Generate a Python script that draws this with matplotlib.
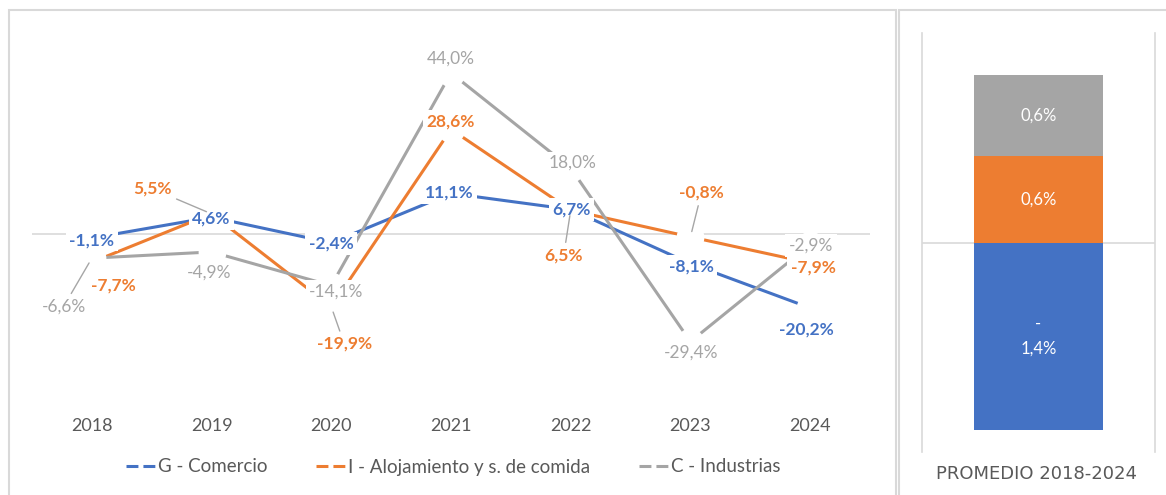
import matplotlib
matplotlib.use('Agg')
import matplotlib.pyplot as plt
from matplotlib.lines import Line2D
from matplotlib.patches import Rectangle

plt.rcParams['font.family'] = ['Lato', 'DejaVu Sans']

# ---------------- data ----------------
years = ['2018', '2019', '2020', '2021', '2022', '2023', '2024']
comercio = [-1.1, 4.6, -2.4, 11.1, 6.7, -8.1, -20.2]
alojamiento = [-7.7, 5.5, -19.9, 28.6, 6.5, -0.8, -7.9]
industrias = [-6.6, -4.9, -14.1, 44.0, 18.0, -29.4, -2.9]
series_names = ['G - Comercio', 'I - Alojamiento y s. de comida', 'C - Industrias']
promedio_title = 'PROMEDIO 2018-2024'
promedio = [-1.39, 0.64, 0.60]   # comercio, alojamiento, industrias

# ---------------- style ----------------
colors = ['#4472C4', '#ED7D31', '#A5A5A5']
label_colors = ['#4472C4', '#ED7D31', '#A5A5A5']
label_weights = ['bold', 'bold', 'normal']
# label offsets in pixels (dx, dy) relative to data point
offsets = [
    [(0, -2), (0, -1), (0, -1), (-2, 1), (1, 0), (1, -3), (-4, -22)],
    [(22, -23), (-59, 25), (13, -37), (0, 8), (-7, -45), (11, 44), (3, -5)],
    [(-28, -48), (-2, -21), (5, -6), (0, 14), (2, 5), (1, -11), (1, -1)],
]
leaders = [
    [False] * 7,
    [False, True, True, False, True, True, False],
    [True, False, False, False, False, False, False],
]

W, H = 1166, 495
fig = plt.figure(figsize=(W / 100, H / 100), dpi=100)
fig.patch.set_facecolor('white')


def fmt(v):
    return f'{v:.1f}%'.replace('.', ',')


# ---------------- left line chart ----------------
axl = fig.add_axes([32 / W, 1 - 417 / H, 838 / W, 366 / H])
x = list(range(len(years)))
axl.axhline(0, color='#D9D9D9', lw=1.2, zorder=1)
for i, vals in enumerate([comercio, alojamiento, industrias]):
    axl.plot(x, vals, color=colors[i], lw=2.2, solid_capstyle='butt',
             marker='o', markersize=20, markerfacecolor='white',
             markeredgecolor='none', zorder=2 + i)
for i, vals in enumerate([comercio, alojamiento, industrias]):
    for j, v in enumerate(vals):
        dx, dy = offsets[i][j]
        ap = None
        if leaders[i][j]:
            ap = dict(arrowstyle='-', color='#A6A6A6', lw=1.0,
                      shrinkA=1, shrinkB=4)
        axl.annotate(fmt(v), xy=(j, v), xytext=(dx, dy),
                     textcoords='offset pixels', ha='center', va='center',
                     fontsize=12.5, color=label_colors[i],
                     fontweight=label_weights[i],
                     bbox=dict(boxstyle='square,pad=0.2', fc='white', ec='none'),
                     arrowprops=ap, zorder=10)
axl.set_xlim(-0.5, len(years) - 0.5)
axl.set_ylim(-50, 50)
axl.set_xticks(x)
axl.set_xticklabels(years)
axl.tick_params(axis='x', length=0, pad=1, labelsize=13, labelcolor='#595959')
axl.set_yticks([])
for s in axl.spines.values():
    s.set_visible(False)
axl.patch.set_alpha(0)

handles = [Line2D([], [], color=c, lw=2.2, linestyle=(0, (3.9, 1.64))) for c in colors]
fig.legend(handles, series_names, loc='center', bbox_to_anchor=(453 / W, 1 - 467 / H),
           ncol=3, frameon=False, fontsize=13.5, labelcolor='#595959',
           handlelength=1.55, handletextpad=0.15, columnspacing=2.6)

# ---------------- right stacked bar ----------------
axr = fig.add_axes([922 / W, 1 - 452 / H, 233 / W, 419 / H])
axr.set_xlim(-0.5, 0.5)
axr.set_ylim(-1.55, 1.55)
axr.axhline(0, color='#D9D9D9', lw=1.2, zorder=1)
pos_bottom = 0.0
for i, v in enumerate(promedio):
    if v < 0:
        b = 0.0
    else:
        b = pos_bottom
        pos_bottom += v
    axr.bar(0, v, bottom=b, width=0.553, color=colors[i], zorder=2)
    txt = fmt(abs(v))
    if v < 0:
        txt = '-\n' + txt
    axr.text(0, b + v / 2, txt, ha='center', va='center', color='white',
             fontsize=12, linespacing=1.65, zorder=3)
axr.set_xticks([])
axr.set_yticks([])
for k in ['top', 'bottom']:
    axr.spines[k].set_visible(False)
for k in ['left', 'right']:
    axr.spines[k].set_color('#D9D9D9')
    axr.spines[k].set_linewidth(1.2)
fig.text(1036 / W, 1 - 474 / H, promedio_title, ha='center', va='center',
         color='#595959', fontsize=13, family='DejaVu Sans')

# ---------------- panel borders ----------------
fig.add_artist(Rectangle((9 / W, -0.1), (896 - 9) / W, 1.1 - 10 / H,
                         transform=fig.transFigure, fill=False,
                         ec='#D9D9D9', lw=1.5))
fig.add_artist(Rectangle((899 / W, -0.1), 0.4, 1.1 - 10 / H,
                         transform=fig.transFigure, fill=False,
                         ec='#D9D9D9', lw=1.5))

fig.savefig('out.png', dpi=100, facecolor='white')
